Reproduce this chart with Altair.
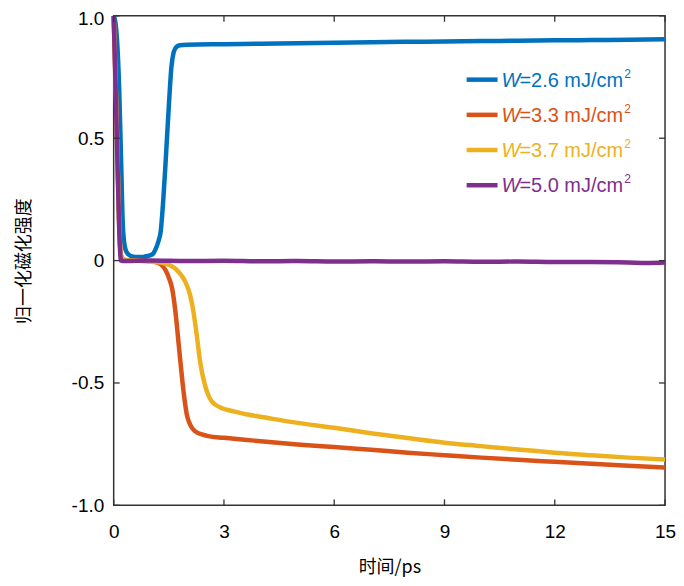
import altair as alt
import pandas as pd

# ---- data ----
blue_x = [0, 0.05, 0.1, 0.15, 0.2, 0.25, 0.3, 0.35, 0.45, 0.6, 0.8, 0.95, 1.05, 1.15, 1.22, 1.28,
          1.35, 1.4, 1.45, 1.5, 1.57, 1.63, 1.7, 1.8, 2.0, 3, 4, 5, 6, 7, 8, 9, 10, 11, 12, 13, 14, 15]
blue_y = [1.0, 0.97, 0.88, 0.7, 0.42, 0.14, 0.06, 0.035, 0.02, 0.015, 0.015, 0.02, 0.025, 0.05, 0.08, 0.12,
          0.25, 0.37, 0.5, 0.63, 0.79, 0.85, 0.872, 0.88, 0.882, 0.884, 0.886, 0.888, 0.89, 0.892, 0.894,
          0.895, 0.897, 0.898, 0.9, 0.901, 0.902, 0.904]

red_x = [0, 0.05, 0.1, 0.15, 0.2, 0.3, 0.6, 1.0, 1.14, 1.3, 1.41, 1.5, 1.59, 1.68, 1.77, 1.86, 1.93, 1.99,
         2.08, 2.21, 2.4, 2.57, 3, 4, 5, 6, 7, 8, 9, 10, 11, 12, 13, 14, 15]
red_y = [1.0, 0.75, 0.45, 0.15, 0.02, 0.003, 0.0, -0.003, -0.006, -0.018, -0.039, -0.07, -0.114, -0.209,
         -0.344, -0.48, -0.57, -0.629, -0.67, -0.697, -0.71, -0.717, -0.724, -0.738, -0.751, -0.762,
         -0.773, -0.785, -0.795, -0.805, -0.814, -0.822, -0.83, -0.838, -0.845]

yellow_x = [0, 0.05, 0.1, 0.15, 0.2, 0.3, 0.6, 1.0, 1.2, 1.41, 1.6, 1.72, 1.85, 1.95, 2.08, 2.17, 2.26,
            2.35, 2.48, 2.57, 2.66, 2.8, 2.93, 3.3, 3.64, 4, 5, 6, 7, 8, 9, 10, 11, 12, 13, 14, 15]
yellow_y = [1.0, 0.75, 0.45, 0.15, 0.02, 0.003, 0.0, -0.004, -0.007, -0.012, -0.025, -0.039, -0.062, -0.087,
            -0.141, -0.209, -0.304, -0.412, -0.507, -0.548, -0.574, -0.592, -0.602, -0.617, -0.629, -0.638,
            -0.663, -0.683, -0.705, -0.725, -0.744, -0.758, -0.772, -0.785, -0.795, -0.805, -0.813]

purple_x = [0, 0.05, 0.1, 0.15, 0.2, 0.3, 1, 2, 3, 4, 5, 6, 7, 8, 9, 10, 11, 12, 13, 14, 14.5, 15]
purple_y = [1.0, 0.72, 0.42, 0.13, 0.0, -0.002, 0.0, -0.002, -0.001, -0.003, -0.002, -0.004, -0.003, -0.004,
            -0.003, -0.005, -0.004, -0.006, -0.006, -0.008, -0.01, -0.008]

series_names = ["=2.6 mJ/cm", "=3.3 mJ/cm", "=3.7 mJ/cm", "=5.0 mJ/cm"]
series_colors = ["#0072BD", "#D95319", "#EDB120", "#7E2F8E"]
series_xy = [(blue_x, blue_y), (red_x, red_y), (yellow_x, yellow_y), (purple_x, purple_y)]

x_ticks = [0, 3, 6, 9, 12, 15]
y_ticks = [-1.0, -0.5, 0.0, 0.5, 1.0]

W, H = 553, 491
FRAME = "#333333"

xs = alt.Scale(domain=[0, 15], nice=False, zero=False)
ys = alt.Scale(domain=[-1, 1], nice=False, zero=False)

x_axis = alt.Axis(values=x_ticks, title="时间/ps", labelPadding=17, labelFlush=False, titleY=62,
                  titleBaseline="middle", titleX=W / 2)
y_axis = alt.Axis(values=y_ticks, title="归一化磁化强度", labelPadding=10, labelFlush=False,
                  labelOffset={"condition": {"test": "datum.value == 1", "value": 3}, "value": 0},
                  titleX=-89, titleY=H / 2,
                  titleAngle=270, titleBaseline="middle", titleAlign="center",
                  labelExpr="datum.value == 0 ? '0' : (datum.value < 0 ? '-' + format(-datum.value, '.1f') : format(datum.value, '.1f'))")

X = lambda f: alt.X(f, scale=xs, axis=x_axis)
Y = lambda f: alt.Y(f, scale=ys, axis=y_axis)

layers = []
for (sx, sy), col in zip(series_xy, series_colors):
    df = pd.DataFrame({"t": sx, "m": sy})
    layers.append(alt.Chart(df).mark_line(color=col, strokeWidth=4.5, interpolate="monotone",
                                          strokeJoin="round").encode(x=X("t:Q"), y=Y("m:Q")))

# inward ticks on all four sides
xt = pd.DataFrame({"t": x_ticks})
yt = pd.DataFrame({"m": y_ticks})
TL = 6
layers.append(alt.Chart(xt).mark_rule(color=FRAME, strokeWidth=1.3).encode(
    x=X("t:Q"), y=alt.value(H), y2=alt.value(H - TL)))
layers.append(alt.Chart(xt).mark_rule(color=FRAME, strokeWidth=1.3).encode(
    x=X("t:Q"), y=alt.value(0), y2=alt.value(TL)))
layers.append(alt.Chart(yt).mark_rule(color=FRAME, strokeWidth=1.3).encode(
    y=Y("m:Q"), x=alt.value(0), x2=alt.value(TL)))
layers.append(alt.Chart(yt).mark_rule(color=FRAME, strokeWidth=1.3).encode(
    y=Y("m:Q"), x=alt.value(W), x2=alt.value(W - TL)))

# legend drawn manually (italic W + superscript 2)
leg_df = pd.DataFrame({"k": [0]})
for i, (name, col) in enumerate(zip(series_names, series_colors)):
    yy = 64 + i * 35.3
    layers.append(alt.Chart(leg_df).mark_rule(color=col, strokeWidth=4.5).encode(
        x=alt.value(354), x2=alt.value(385), y=alt.value(yy)))
    layers.append(alt.Chart(leg_df).mark_text(text="W", color=col, font="Liberation Sans", fontSize=20,
                                              fontStyle="italic", align="left", baseline="middle").encode(
        x=alt.value(389), y=alt.value(yy + 1)))
    layers.append(alt.Chart(leg_df).mark_text(text=name, color=col, font="Liberation Sans", fontSize=20,
                                              align="left", baseline="middle").encode(
        x=alt.value(407), y=alt.value(yy + 1)))
    layers.append(alt.Chart(leg_df).mark_text(text="2", color=col, font="Liberation Sans", fontSize=12,
                                              align="left", baseline="middle").encode(
        x=alt.value(512), y=alt.value(yy - 6)))

chart = alt.layer(*layers).properties(
    width=W, height=H,
    autosize=alt.AutoSizeParams(type="none"),
    padding={"left": 106, "top": 7, "right": 11, "bottom": 71},
).configure_view(stroke=FRAME, strokeWidth=1.5).configure_axis(
    grid=False, domain=False, ticks=False,
    labelFont="Liberation Sans", labelFontSize=19, labelColor="#000000",
    titleFont="Noto Sans CJK SC", titleFontSize=18, titleFontWeight="normal", titleColor="#000000",
)

chart.save("out.html", embed_options={"renderer": "svg", "actions": False})
